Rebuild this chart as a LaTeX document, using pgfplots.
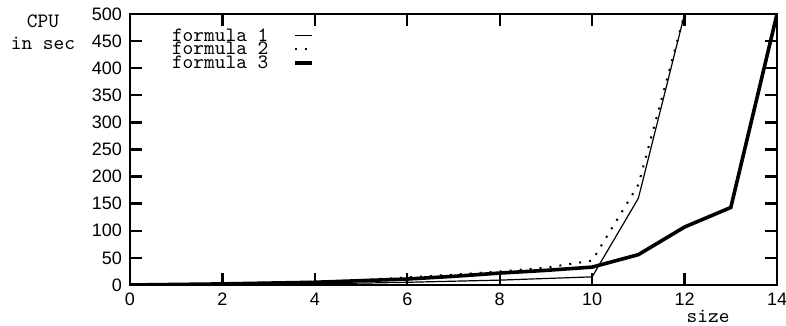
\documentclass[border=0pt]{standalone}
\usepackage{fontspec}
\setmainfont{Liberation Sans}
\usepackage{pgfplots}
\pgfplotsset{compat=1.18}
\newcommand{\ttf}{\ttfamily\fontsize{10.2}{11}\selectfont}
\begin{document}
\begin{tikzpicture}
\begin{axis}[
  scale only axis, width=323.5pt, height=135.5pt,
  xmin=0, xmax=14, ymin=0, ymax=500,
  xtick={0,2,...,14}, ytick={0,50,...,500},
  tick align=inside, major tick length=6pt,
  every tick/.style={line width=1.2pt, black},
  axis line style={line width=1.2pt},
  tick label style={font=\fontsize{9}{10}\selectfont},
  /pgf/number format/assume math mode=true,
  xticklabel style={yshift=-0.5pt},
  yticklabel style={xshift=-0.5pt},
  xlabel={size}, ylabel={CPU\\in sec},
  every axis x label/.style={at={(axis description cs:0.8934,0)}, anchor=base, yshift=-18.5pt, font=\ttf},
  every axis y label/.style={at={(axis description cs:0,1)}, anchor=north, xshift=-43.5pt, inner sep=0pt, align=center, font=\ttf},
  legend style={draw=none, fill=none, at={(0.0634,0.9446)}, anchor=north west, inner sep=0pt, outer sep=0pt, row sep=0pt, column sep=12pt, font=\ttf, nodes={inner sep=0.5pt, text height=5.6pt, text depth=0.2pt}},
  legend cell align=left, legend plot pos=right,
  legend image code/.code={\draw[#1] (0pt,0pt) -- (8.5pt,0pt);},
]
\coordinate (O) at (rel axis cs:0,0);
\addplot[black, line width=0.6pt] coordinates {
(0,0) (1,0.5) (2,1) (3,1.5) (4,2.5) (5,3.5) (6,5) (7,7) (8,9) (9,12) (10,15) (11,160) (12,500)};
\addlegendentry{formula 1}
\addplot[black, line width=1pt, dash pattern=on 1pt off 4pt] coordinates {
(0,0) (1,1) (2,2) (3,4) (4,6) (5,9) (6,14) (7,19) (8,25) (9,32) (10,45) (11,185) (12,500)};
\addlegendentry{formula 2}
\addplot[black, line width=1.8pt] coordinates {
(0,0) (1,1) (2,2) (3,3.5) (4,5) (5,8) (6,11) (7,16) (8,22) (9,27) (10,33) (11,56) (12,107) (13,143) (14,500)};
\addlegendentry{formula 3}
\end{axis}
\pgfresetboundingbox
\path[use as bounding box] ([shift={(-65pt,-20.5pt)}]O) rectangle ([shift={(328pt,142.5pt)}]O);
\end{tikzpicture}
\end{document}
